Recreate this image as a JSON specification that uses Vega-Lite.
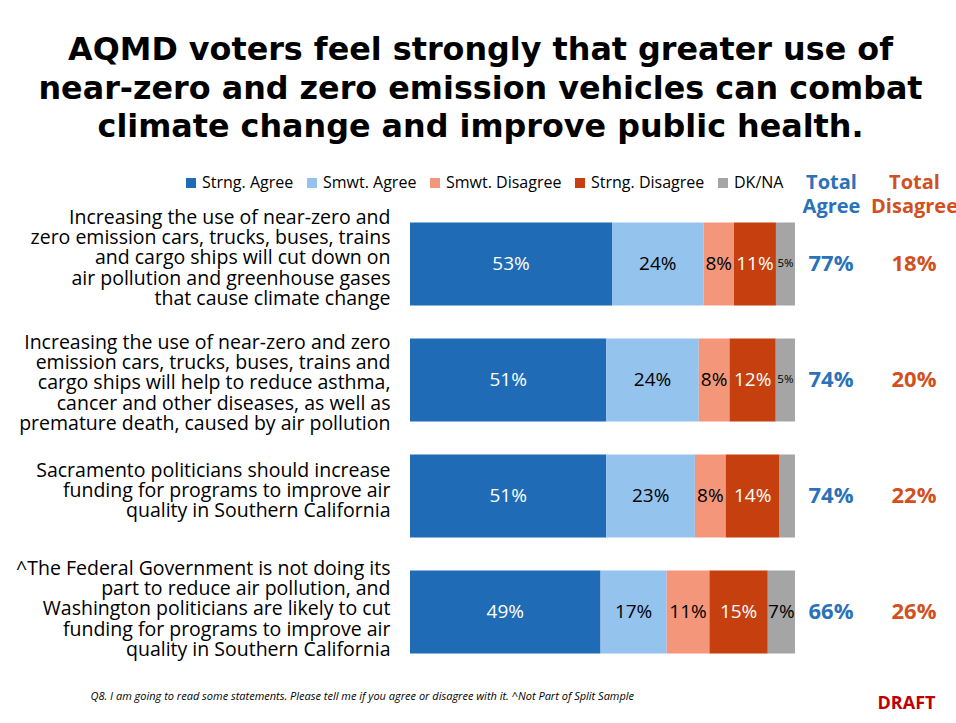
{
  "$schema": "https://vega.github.io/schema/vega-lite/v6.json",
  "background": "white",
  "padding": {"left": 15, "top": 35, "right": 0, "bottom": 0},
  "title": {
    "text": ["AQMD voters feel strongly that greater use of", "near-zero and zero emission vehicles can combat", "climate change and improve public health."],
    "font": "DejaVu Sans", "fontSize": 31.8, "fontWeight": "bold", "lineHeight": 38.5, "color": "black", "anchor": "middle", "offset": 28, "dx": -6
  },
  "datasets": {
    "resp": [
      {"statement": "Increasing the use of near-zero and\nzero emission cars, trucks, buses, trains\nand cargo ships will cut down on\nair pollution and greenhouse gases\nthat cause climate change", "response": "Strng. Agree", "pct": 53},
      {"statement": "Increasing the use of near-zero and\nzero emission cars, trucks, buses, trains\nand cargo ships will cut down on\nair pollution and greenhouse gases\nthat cause climate change", "response": "Smwt. Agree", "pct": 24},
      {"statement": "Increasing the use of near-zero and\nzero emission cars, trucks, buses, trains\nand cargo ships will cut down on\nair pollution and greenhouse gases\nthat cause climate change", "response": "Smwt. Disagree", "pct": 8},
      {"statement": "Increasing the use of near-zero and\nzero emission cars, trucks, buses, trains\nand cargo ships will cut down on\nair pollution and greenhouse gases\nthat cause climate change", "response": "Strng. Disagree", "pct": 11},
      {"statement": "Increasing the use of near-zero and\nzero emission cars, trucks, buses, trains\nand cargo ships will cut down on\nair pollution and greenhouse gases\nthat cause climate change", "response": "DK/NA", "pct": 5},
      {"statement": "Increasing the use of near-zero and zero\nemission cars, trucks, buses, trains and\ncargo ships will help to reduce asthma,\ncancer and other diseases, as well as\npremature death, caused by air pollution", "response": "Strng. Agree", "pct": 51},
      {"statement": "Increasing the use of near-zero and zero\nemission cars, trucks, buses, trains and\ncargo ships will help to reduce asthma,\ncancer and other diseases, as well as\npremature death, caused by air pollution", "response": "Smwt. Agree", "pct": 24},
      {"statement": "Increasing the use of near-zero and zero\nemission cars, trucks, buses, trains and\ncargo ships will help to reduce asthma,\ncancer and other diseases, as well as\npremature death, caused by air pollution", "response": "Smwt. Disagree", "pct": 8},
      {"statement": "Increasing the use of near-zero and zero\nemission cars, trucks, buses, trains and\ncargo ships will help to reduce asthma,\ncancer and other diseases, as well as\npremature death, caused by air pollution", "response": "Strng. Disagree", "pct": 12},
      {"statement": "Increasing the use of near-zero and zero\nemission cars, trucks, buses, trains and\ncargo ships will help to reduce asthma,\ncancer and other diseases, as well as\npremature death, caused by air pollution", "response": "DK/NA", "pct": 5},
      {"statement": "Sacramento politicians should increase\nfunding for programs to improve air\nquality in Southern California", "response": "Strng. Agree", "pct": 51},
      {"statement": "Sacramento politicians should increase\nfunding for programs to improve air\nquality in Southern California", "response": "Smwt. Agree", "pct": 23},
      {"statement": "Sacramento politicians should increase\nfunding for programs to improve air\nquality in Southern California", "response": "Smwt. Disagree", "pct": 8},
      {"statement": "Sacramento politicians should increase\nfunding for programs to improve air\nquality in Southern California", "response": "Strng. Disagree", "pct": 14},
      {"statement": "Sacramento politicians should increase\nfunding for programs to improve air\nquality in Southern California", "response": "DK/NA", "pct": 4},
      {"statement": "^The Federal Government is not doing its\npart to reduce air pollution, and\nWashington politicians are likely to cut\nfunding for programs to improve air\nquality in Southern California", "response": "Strng. Agree", "pct": 49},
      {"statement": "^The Federal Government is not doing its\npart to reduce air pollution, and\nWashington politicians are likely to cut\nfunding for programs to improve air\nquality in Southern California", "response": "Smwt. Agree", "pct": 17},
      {"statement": "^The Federal Government is not doing its\npart to reduce air pollution, and\nWashington politicians are likely to cut\nfunding for programs to improve air\nquality in Southern California", "response": "Smwt. Disagree", "pct": 11},
      {"statement": "^The Federal Government is not doing its\npart to reduce air pollution, and\nWashington politicians are likely to cut\nfunding for programs to improve air\nquality in Southern California", "response": "Strng. Disagree", "pct": 15},
      {"statement": "^The Federal Government is not doing its\npart to reduce air pollution, and\nWashington politicians are likely to cut\nfunding for programs to improve air\nquality in Southern California", "response": "DK/NA", "pct": 7}
    ],
    "totals": [
      {"statement": "Increasing the use of near-zero and\nzero emission cars, trucks, buses, trains\nand cargo ships will cut down on\nair pollution and greenhouse gases\nthat cause climate change", "measure": "Total Agree", "pct": 77},
      {"statement": "Increasing the use of near-zero and\nzero emission cars, trucks, buses, trains\nand cargo ships will cut down on\nair pollution and greenhouse gases\nthat cause climate change", "measure": "Total Disagree", "pct": 18},
      {"statement": "Increasing the use of near-zero and zero\nemission cars, trucks, buses, trains and\ncargo ships will help to reduce asthma,\ncancer and other diseases, as well as\npremature death, caused by air pollution", "measure": "Total Agree", "pct": 74},
      {"statement": "Increasing the use of near-zero and zero\nemission cars, trucks, buses, trains and\ncargo ships will help to reduce asthma,\ncancer and other diseases, as well as\npremature death, caused by air pollution", "measure": "Total Disagree", "pct": 20},
      {"statement": "Sacramento politicians should increase\nfunding for programs to improve air\nquality in Southern California", "measure": "Total Agree", "pct": 74},
      {"statement": "Sacramento politicians should increase\nfunding for programs to improve air\nquality in Southern California", "measure": "Total Disagree", "pct": 22},
      {"statement": "^The Federal Government is not doing its\npart to reduce air pollution, and\nWashington politicians are likely to cut\nfunding for programs to improve air\nquality in Southern California", "measure": "Total Agree", "pct": 66},
      {"statement": "^The Federal Government is not doing its\npart to reduce air pollution, and\nWashington politicians are likely to cut\nfunding for programs to improve air\nquality in Southern California", "measure": "Total Disagree", "pct": 26}
    ]
  },
  "spacing": 5,
  "hconcat": [
    {
      "width": 385,
      "height": 464,
      "data": {"name": "resp"},
      "transform": [
        {"calculate": "indexof(['Strng. Agree','Smwt. Agree','Smwt. Disagree','Strng. Disagree','DK/NA'], datum.response)", "as": "k"},
        {"stack": "pct", "groupby": ["statement"], "sort": [{"field": "k", "order": "ascending"}], "offset": "normalize", "as": ["x0", "x1"]},
        {"calculate": "(datum.x0 + datum.x1) / 2", "as": "xm"},
        {"calculate": "datum.pct + '%'", "as": "label"}
      ],
      "encoding": {
        "y": {
          "field": "statement", "type": "nominal", "sort": null,
          "scale": {"paddingInner": 0.285, "paddingOuter": 0.1425},
          "axis": {
            "title": null, "ticks": false, "domain": false, "labelPadding": 20, "labelLimit": 600,
            "labelFont": "Open Sans", "labelFontSize": 19.5, "labelColor": "black", "labelLineHeight": 20.2,
            "labelExpr": "split(datum.label, '\\n')",
            "labelOffset": {
              "condition": [
                {"test": "indexof(datum.label, 'greenhouse') >= 0", "value": -46},
                {"test": "indexof(datum.label, 'asthma') >= 0", "value": -37},
                {"test": "indexof(datum.label, 'Sacramento') >= 0", "value": -25}
              ],
              "value": -43
            }
          }
        }
      },
      "layer": [
        {
          "mark": {"type": "bar"},
          "encoding": {
            "x": {
              "field": "x0", "type": "quantitative", "scale": {"domain": [0, 1], "nice": false},
              "axis": {
                "labels": false, "ticks": false, "domain": false, "grid": false,
                "title": "Q8. I am going to read some statements.  Please tell me if you agree or disagree with it. ^Not Part of Split Sample",
                "titleFont": "Open Sans", "titleFontSize": 11, "titleFontStyle": "italic", "titleFontWeight": "normal", "titleColor": "black",
                "titleX": -320, "titleY": 26, "titleAlign": "left", "titleBaseline": "middle"
              }
            },
            "x2": {"field": "x1"},
            "color": {
              "field": "response", "type": "nominal",
              "scale": {"domain": ["Strng. Agree", "Smwt. Agree", "Smwt. Disagree", "Strng. Disagree", "DK/NA"], "range": ["#1F6BB5", "#94C3EE", "#F4967A", "#C63F0E", "#A5A5A5"]},
              "legend": {
                "title": null, "orient": "none", "legendX": -227, "legendY": -31, "direction": "horizontal",
                "symbolType": "square", "symbolSize": 100, "symbolStrokeWidth": 0, "labelFont": "Open Sans", "labelFontSize": 16,
                "labelColor": "black", "columnPadding": 10, "labelOffset": 3
              }
            }
          }
        },
        {
          "transform": [{"filter": "datum.pct >= 5"}],
          "mark": {"type": "text", "font": "Open Sans", "baseline": "middle", "align": "center"},
          "encoding": {
            "x": {"field": "xm", "type": "quantitative"},
            "text": {"field": "label"},
            "color": {"condition": {"test": "datum.response == 'Strng. Agree' || datum.response == 'Strng. Disagree'", "value": "white"}, "value": "black"},
            "size": {"condition": {"test": "datum.response == 'DK/NA' && datum.pct < 6", "value": 11.5}, "value": 19}
          }
        }
      ]
    },
    {
      "width": 145,
      "height": 464,
      "data": {"name": "totals"},
      "transform": [{"calculate": "datum.pct + '%'", "as": "label"}],
      "mark": {"type": "text", "font": "Open Sans", "fontWeight": "bold", "fontSize": 22, "baseline": "middle", "align": "center"},
      "encoding": {
        "y": {
          "field": "statement", "type": "nominal", "sort": null,
          "scale": {"paddingInner": 0.285, "paddingOuter": 0.1425},
          "axis": {
            "orient": "right", "labels": false, "ticks": false, "domain": false,
            "title": "DRAFT", "titleAngle": 0, "titleColor": "#C00000", "titleFont": "Open Sans", "titleFontSize": 18, "titleFontWeight": "bold",
            "titleX": -39, "titleY": 497, "titleAlign": "center", "titleBaseline": "middle"
          }
        },
        "x": {
          "field": "measure", "type": "nominal", "sort": null,
          "scale": {"type": "point", "padding": 0.3735},
          "axis": {
            "orient": "top", "title": null, "ticks": false, "domain": false, "labelAngle": 0,
            "labelExpr": "split(datum.label, ' ')", "labelFont": "Open Sans", "labelFontSize": 20, "labelFontWeight": "bold",
            "labelLineHeight": 24, "labelPadding": 14,
            "labelColor": {"condition": {"test": "datum.value == 'Total Agree'", "value": "#2A72B9"}, "value": "#D2501E"}
          }
        },
        "text": {"field": "label"},
        "color": {"condition": {"test": "datum.measure == 'Total Agree'", "value": "#2A72B9"}, "value": "#D2501E"}
      }
    }
  ],
  "config": {"view": {"stroke": null}, "font": "Open Sans"}
}
